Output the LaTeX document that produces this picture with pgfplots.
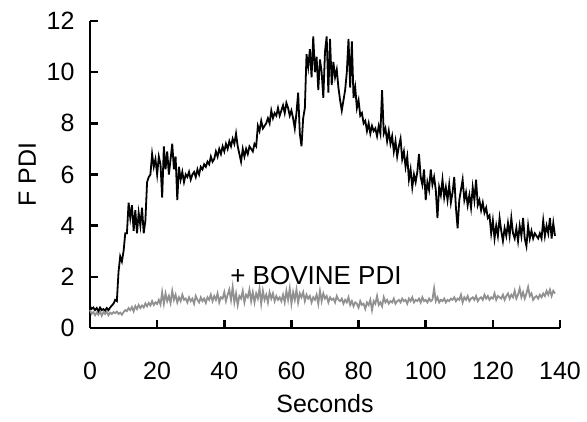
\documentclass[border=0pt]{standalone}
\usepackage{fontspec}
\setmainfont{Liberation Sans}
\usepackage{pgfplots}
\usepackage{pgfplotstable}
\pgfplotsset{compat=1.18}

\definecolor{bovgray}{RGB}{145,145,145}

% time (s), F PDI alone, F PDI + bovine PDI
\pgfplotstableread{
t b g
0.0 0.85 0.70
0.5 0.75 0.55
1.0 0.80 0.62
1.5 0.70 0.50
2.0 0.78 0.60
2.5 0.66 0.52
3.0 0.80 0.66
3.5 0.70 0.48
4.0 0.74 0.62
4.5 0.68 0.55
5.0 0.78 0.64
5.5 0.70 0.50
6.0 0.80 0.60
6.5 0.88 0.55
7.0 0.95 0.62
7.5 1.10 0.58
8.0 1.05 0.64
8.5 2.2 0.55
9.0 2.8 0.60
9.5 2.6 0.52
10.0 3.0 0.62
10.5 3.7 0.70
11.0 3.7 0.66
11.5 4.9 0.78
12.0 4.3 0.70
12.5 4.8 0.82
13.0 3.8 0.65
13.5 4.6 0.86
14.0 3.7 0.74
14.5 4.5 0.90
15.0 4.0 0.78
15.5 4.7 0.88
16.0 3.7 0.80
16.5 4.2 0.96
17.0 5.7 0.85
17.5 5.9 0.98
18.0 6.0 0.88
18.5 6.8 1.05
19.0 6.3 0.90
19.5 6.6 1.00
20.0 6.0 0.94
20.5 6.7 1.10
21.0 6.4 0.92
21.5 5.1 1.40
22.0 7.1 0.95
22.5 6.2 1.35
23.0 6.9 1.05
23.5 6.0 1.25
24.0 6.6 0.98
24.5 7.2 1.45
25.0 6.2 1.10
25.5 6.7 1.30
26.0 5.0 1.00
26.5 6.3 1.20
27.0 5.8 1.05
27.5 6.1 1.30
28.0 5.7 1.10
28.5 6.0 1.15
29.0 5.9 1.00
29.5 6.1 1.20
30.0 5.8 1.05
30.5 6.0 1.15
31.0 6.1 0.95
31.5 5.9 1.25
32.0 6.2 1.10
32.5 6.0 1.00
33.0 6.3 1.20
33.5 6.2 1.05
34.0 6.4 1.15
34.5 6.3 0.98
35.0 6.5 1.20
35.5 6.4 1.10
36.0 6.7 1.30
36.5 6.5 1.05
37.0 6.6 1.25
37.5 6.9 1.10
38.0 6.7 1.35
38.5 7.0 1.00
39.0 6.8 1.20
39.5 7.1 1.15
40.0 6.9 1.40
40.5 7.2 1.05
41.0 7.0 1.30
41.5 7.3 1.50
42.0 7.1 1.10
42.5 7.4 1.60
43.0 7.2 1.00
43.5 7.6 1.35
44.0 7.1 0.90
44.5 6.8 1.25
45.0 6.5 1.15
45.5 7.0 1.45
46.0 6.7 1.00
46.5 7.0 1.30
47.0 6.8 1.20
47.5 7.1 1.50
48.0 7.0 1.05
48.5 6.9 1.40
49.0 7.2 1.00
49.5 7.1 1.35
50.0 7.9 1.15
50.5 7.7 1.55
51.0 8.1 0.95
51.5 7.8 1.45
52.0 7.9 1.10
52.5 8.0 1.30
53.0 8.2 1.00
53.5 8.0 1.40
54.0 8.5 1.15
54.5 8.2 1.35
55.0 8.4 1.05
55.5 8.3 1.25
56.0 8.6 1.10
56.5 8.3 1.20
57.0 8.5 1.05
57.5 8.7 1.30
58.0 8.4 1.00
58.5 8.8 1.45
59.0 8.6 1.10
59.5 8.3 1.55
60.0 8.5 0.95
60.5 8.2 1.40
61.0 7.8 1.10
61.5 8.4 1.50
62.0 9.2 1.00
62.5 7.6 1.35
63.0 7.1 1.20
63.5 8.2 1.40
64.0 8.6 1.05
64.5 10.7 1.30
65.0 10.2 1.15
65.5 10.9 1.25
66.0 9.8 1.00
66.5 11.4 1.20
67.0 10.0 1.10
67.5 10.6 1.30
68.0 9.3 0.95
68.5 10.5 1.45
69.0 10.0 1.05
69.5 9.0 1.35
70.0 10.8 1.15
70.5 11.4 1.25
71.0 9.2 1.00
71.5 11.3 1.20
72.0 9.5 1.10
72.5 10.4 1.15
73.0 9.8 1.00
73.5 10.1 1.25
74.0 9.4 1.10
74.5 8.9 1.05
75.0 8.5 1.15
75.5 8.9 0.95
76.0 9.3 1.10
76.5 10.0 1.00
77.0 11.3 1.20
77.5 9.4 0.90
78.0 11.2 1.05
78.5 9.0 0.85
79.0 9.4 1.00
79.5 8.6 0.95
80.0 8.9 0.80
80.5 8.3 1.05
81.0 8.4 0.90
81.5 8.0 0.95
82.0 8.1 0.75
82.5 7.7 1.00
83.0 8.0 0.90
83.5 7.6 1.10
84.0 7.9 0.70
84.5 7.7 1.05
85.0 7.8 0.95
85.5 7.5 1.25
86.0 7.9 0.90
86.5 7.6 1.00
87.0 9.3 0.85
87.5 7.6 1.20
88.0 7.8 1.00
88.5 7.3 1.10
89.0 7.7 0.95
89.5 7.2 1.05
90.0 7.5 1.00
90.5 6.9 1.15
91.0 7.3 0.95
91.5 6.7 1.05
92.0 7.1 1.10
92.5 7.4 1.00
93.0 6.6 1.15
93.5 6.9 1.05
94.0 6.3 1.10
94.5 6.7 0.95
95.0 5.8 1.15
95.5 6.2 1.05
96.0 5.5 1.20
96.5 6.0 1.00
97.0 5.7 1.10
97.5 6.1 1.05
98.0 6.8 1.15
98.5 5.9 1.00
99.0 5.6 1.20
99.5 6.2 1.05
100.0 5.0 1.10
100.5 5.7 1.00
101.0 5.4 1.15
101.5 6.2 1.05
102.0 5.6 1.10
102.5 5.9 1.55
103.0 5.4 1.05
103.5 4.3 1.20
104.0 5.5 1.00
104.5 5.2 1.10
105.0 5.8 1.05
105.5 5.1 1.15
106.0 5.5 1.00
106.5 5.0 1.10
107.0 5.6 1.05
107.5 4.9 1.15
108.0 5.3 1.10
108.5 5.9 1.20
109.0 4.7 1.05
109.5 3.9 1.15
110.0 5.0 1.10
110.5 5.4 1.30
111.0 5.8 1.00
111.5 5.0 1.20
112.0 5.3 1.10
112.5 4.8 1.25
113.0 5.2 1.05
113.5 4.7 1.15
114.0 5.5 1.20
114.5 5.0 1.10
115.0 5.8 1.25
115.5 4.8 1.05
116.0 5.0 1.15
116.5 4.6 1.20
117.0 4.9 1.10
117.5 4.5 1.30
118.0 4.7 1.15
118.5 4.3 1.25
119.0 4.4 1.10
119.5 3.7 1.20
120.0 4.2 1.15
120.5 3.5 1.35
121.0 4.0 1.10
121.5 3.6 1.25
122.0 4.3 1.20
122.5 3.8 1.15
123.0 3.4 1.30
123.5 3.9 1.10
124.0 3.6 1.25
124.5 4.1 1.35
125.0 3.6 1.15
125.5 4.3 1.30
126.0 3.7 1.20
126.5 3.5 1.45
127.0 3.9 1.15
127.5 3.4 1.30
128.0 4.0 1.55
128.5 3.6 1.20
129.0 4.3 1.40
129.5 3.5 1.15
130.0 3.2 1.35
130.5 4.0 1.60
131.0 3.5 1.25
131.5 3.8 1.35
132.0 3.5 1.10
132.5 3.7 1.20
133.0 3.6 1.25
133.5 3.5 1.15
134.0 3.7 1.30
134.5 3.5 1.20
135.0 4.2 1.35
135.5 3.6 1.25
136.0 4.0 1.45
136.5 3.7 1.30
137.0 4.3 1.50
137.5 3.5 1.25
138.0 4.1 1.45
138.5 3.6 1.35
}\pdidata

\begin{document}
\begin{tikzpicture}
\path[use as bounding box] (-90pt,-94pt) rectangle (497pt,328pt);
\begin{axis}[
    scale only axis,
    width=470pt,
    height=307pt,
    xmin=0, xmax=140,
    ymin=0, ymax=12,
    xtick={0,20,...,140},
    ytick={0,2,...,12},
    axis lines*=left,
    axis line style={line width=2.5pt, -},
    tick style={line width=2.5pt, black},
    major tick length=8pt,
    tick align=inside,
    font=\fontsize{25}{30}\selectfont,
    tick label style={font=\fontsize{25}{30}\selectfont},
    /pgf/number format/assume math mode=true,
    xticklabel style={yshift=-31pt},
    yticklabel style={xshift=-12pt},
    xlabel={Seconds},
    ylabel={F PDI},
    xlabel style={yshift=-7pt},
    ylabel style={yshift=4pt},
    clip=false,
]
\addplot[bovgray, line width=1.8pt] table[x=t, y=g] {\pdidata};
\addplot[black, line width=1.8pt] table[x=t, y=b] {\pdidata};
\node[font=\fontsize{26}{30}\selectfont] at (axis cs:67.3,2.05) {+ BOVINE PDI};
\end{axis}
\end{tikzpicture}
\end{document}
